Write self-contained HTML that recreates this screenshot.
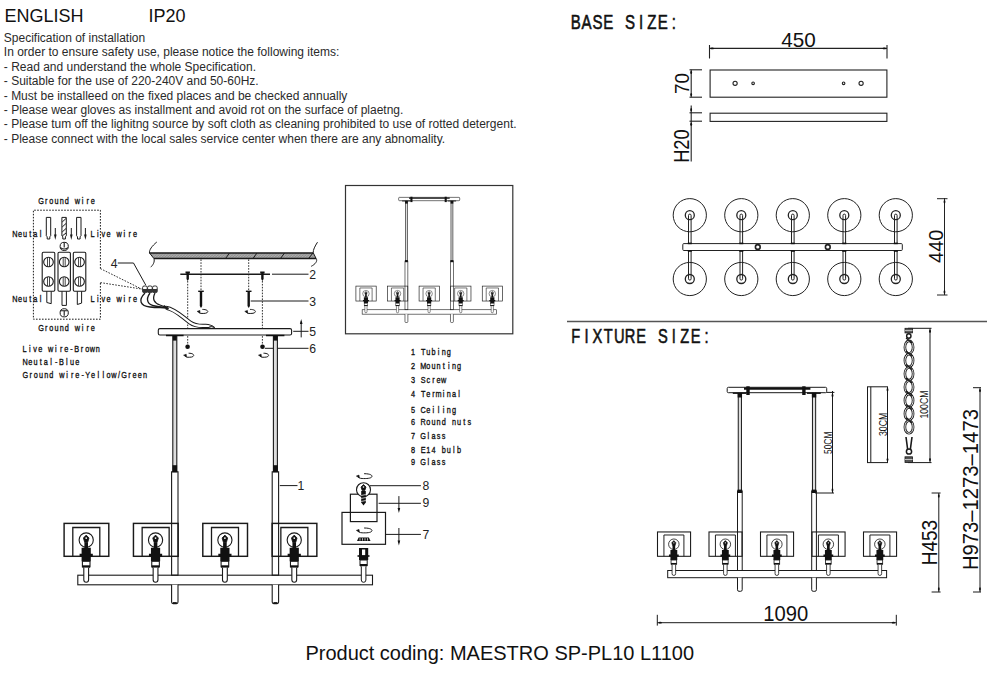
<!DOCTYPE html>
<html><head><meta charset="utf-8"><style>
html,body{margin:0;padding:0;background:#fff;width:1000px;height:690px;overflow:hidden}
svg{display:block}
</style></head><body>
<svg width="1000" height="690" viewBox="0 0 1000 690" fill="#111">
<defs><g id="shade">
<rect x="-22.1" y="-32.9" width="44.7" height="32.9" fill="none" stroke="#1a1a1a" stroke-width="1.45"/>
<path d="M-13.4 0 V-28.8 H13.6 V0" fill="none" stroke="#1a1a1a" stroke-width="1.3"/>
<circle cx="0" cy="-16.3" r="7.1" fill="none" stroke="#1a1a1a" stroke-width="1.1"/>
<path d="M-2.8 -18.3 L0 -21.2 L2.8 -18.3 L1.5 -14 h-3z" fill="#111" stroke="#111" stroke-width="0.8"/><circle cx="0" cy="-18.2" r="0.9" fill="#fff"/>
<rect x="-1.8" y="-14" width="3.6" height="6" fill="#111"/>
<path d="M-4.6 -8.5 h9.2 v6 h2 v3 h-2 v4.5 h-9.2 v-4.5 h-2 v-3 h2z" fill="#111"/>
<rect x="-3.8" y="5" width="7.6" height="5.5" fill="#fff" stroke="#1a1a1a" stroke-width="1.1"/>
<rect x="-3.8" y="9" width="7.6" height="2.4" fill="#111"/>
<path d="M-2.4 11.4 V23.5 a2.4 2.4 0 0 0 4.8 0 V11.4" fill="#fff" stroke="#1a1a1a" stroke-width="1.1"/>
</g></defs>
<text x="4.6" y="21.6" font-size="18" font-family='"Liberation Sans", sans-serif' font-weight="normal" text-anchor="start" >ENGLISH</text>
<text x="148.4" y="21.6" font-size="18" font-family='"Liberation Sans", sans-serif' font-weight="normal" text-anchor="start" >IP20</text>
<text x="3.8" y="42.0" font-size="12" font-family='"Liberation Sans", sans-serif' font-weight="normal" text-anchor="start" fill="#2a2a2a">Specification of installation</text>
<text x="3.8" y="56.4" font-size="12" font-family='"Liberation Sans", sans-serif' font-weight="normal" text-anchor="start" fill="#2a2a2a">In order to ensure safety use, please notice the following items:</text>
<text x="3.8" y="70.8" font-size="12" font-family='"Liberation Sans", sans-serif' font-weight="normal" text-anchor="start" fill="#2a2a2a">- Read and understand the whole Specification.</text>
<text x="3.8" y="85.2" font-size="12" font-family='"Liberation Sans", sans-serif' font-weight="normal" text-anchor="start" fill="#2a2a2a">- Suitable for the use of 220-240V and 50-60Hz.</text>
<text x="3.8" y="99.6" font-size="12" font-family='"Liberation Sans", sans-serif' font-weight="normal" text-anchor="start" fill="#2a2a2a">- Must be installeed on the fixed places and be checked annually</text>
<text x="3.8" y="114.0" font-size="12" font-family='"Liberation Sans", sans-serif' font-weight="normal" text-anchor="start" fill="#2a2a2a">- Please wear gloves as installment and avoid rot on the surface of plaetng.</text>
<text x="3.8" y="128.4" font-size="12" font-family='"Liberation Sans", sans-serif' font-weight="normal" text-anchor="start" fill="#2a2a2a">- Please tum off the lighitng source by soft cloth as cleaning prohibited to use of rotted detergent.</text>
<text x="3.8" y="142.8" font-size="12" font-family='"Liberation Sans", sans-serif' font-weight="normal" text-anchor="start" fill="#2a2a2a">- Please connect with the local sales service center when there are any abnomality.</text>
<text x="305.4" y="660" font-size="20" font-family='"Liberation Sans", sans-serif' font-weight="normal" text-anchor="start" >Product coding: MAESTRO SP-PL10 L1100</text>
<text transform="translate(570.2,28.8) scale(0.72,1)" x="7.57 22.71 37.85 52.99 68.13 83.26 98.40 113.54 128.68 143.82" y="0" font-size="20.93" font-family='"Liberation Sans", sans-serif' font-weight="normal" text-anchor="middle" stroke="#111" stroke-width="0.6">BASE SIZE:</text>
<text transform="translate(570.2,342.8) scale(0.72,1)" x="7.57 22.71 37.85 52.99 68.13 83.26 98.40 113.54 128.68 143.82 158.96 174.10 189.24" y="0" font-size="20.35" font-family='"Liberation Sans", sans-serif' font-weight="normal" text-anchor="middle" stroke="#111" stroke-width="0.6">FIXTURE SIZE:</text>
<line x1="567" y1="321.5" x2="987" y2="321.5" stroke="#555" stroke-width="1.3"/>
<g stroke="#222" stroke-width="1.1" fill="none">
<line x1="709.5" y1="48.4" x2="887" y2="48.4"/>
<line x1="709.5" y1="45" x2="709.5" y2="58.5"/><line x1="887" y1="45" x2="887" y2="58.5"/>
<rect x="710.1" y="70" width="176.8" height="27.2"/>
<circle cx="735.1" cy="83.3" r="2.1"/><circle cx="753.1" cy="83.3" r="1.3"/>
<circle cx="843.6" cy="83.3" r="1.3"/><circle cx="861.1" cy="83.3" r="2.1"/>
<line x1="691.2" y1="69.8" x2="691.2" y2="97.2"/>
<line x1="689.5" y1="69.8" x2="702" y2="69.8"/><line x1="689.5" y1="97.2" x2="702" y2="97.2"/>
<rect x="710.1" y="113.2" width="176.8" height="8.2"/>
<line x1="691.2" y1="105.5" x2="691.2" y2="161.5"/>
<line x1="689.5" y1="112.8" x2="702" y2="112.8"/><line x1="689.5" y1="121.2" x2="702" y2="121.2"/>
</g>
<text x="798.4" y="46.9" font-size="21" font-family='"Liberation Sans", sans-serif' font-weight="normal" text-anchor="middle" textLength="34.5" lengthAdjust="spacingAndGlyphs" >450</text>
<text transform="translate(682.2,83.4) rotate(-90)" x="0" y="0" font-size="20" font-family='"Liberation Sans", sans-serif' font-weight="normal" text-anchor="middle" dominant-baseline="central" textLength="21" lengthAdjust="spacingAndGlyphs">70</text>
<text transform="translate(681.9,146.1) rotate(-90)" x="0" y="0" font-size="21.5" font-family='"Liberation Sans", sans-serif' font-weight="normal" text-anchor="middle" dominant-baseline="central" textLength="33.5" lengthAdjust="spacingAndGlyphs">H20</text>
<g stroke="#222" stroke-width="1" fill="none">
<rect x="682.8" y="243.6" width="219.5" height="6.9" rx="1"/>
<circle cx="689.8" cy="215.2" r="16.6"/>
<circle cx="689.8" cy="215.2" r="4.5" stroke-width="1.3"/>
<circle cx="689.8" cy="279" r="16.6"/>
<circle cx="689.8" cy="279" r="4.5" stroke-width="1.3"/>
<path d="M688.5 243.6 V215.4 a1.3 1.3 0 0 1 2.6 0 V243.6"/>
<path d="M688.5 250.5 V278.8 a1.3 1.3 0 0 0 2.6 0 V250.5"/>
<rect x="687.8" y="242.6" width="4" height="1.6" fill="#111" stroke="none"/>
<rect x="687.8" y="250.2" width="4" height="1.6" fill="#111" stroke="none"/>
<circle cx="741.3" cy="215.2" r="16.6"/>
<circle cx="741.3" cy="215.2" r="4.5" stroke-width="1.3"/>
<circle cx="741.3" cy="279" r="16.6"/>
<circle cx="741.3" cy="279" r="4.5" stroke-width="1.3"/>
<path d="M740.0 243.6 V215.4 a1.3 1.3 0 0 1 2.6 0 V243.6"/>
<path d="M740.0 250.5 V278.8 a1.3 1.3 0 0 0 2.6 0 V250.5"/>
<rect x="739.3" y="242.6" width="4" height="1.6" fill="#111" stroke="none"/>
<rect x="739.3" y="250.2" width="4" height="1.6" fill="#111" stroke="none"/>
<circle cx="792.8" cy="215.2" r="16.6"/>
<circle cx="792.8" cy="215.2" r="4.5" stroke-width="1.3"/>
<circle cx="792.8" cy="279" r="16.6"/>
<circle cx="792.8" cy="279" r="4.5" stroke-width="1.3"/>
<path d="M791.5 243.6 V215.4 a1.3 1.3 0 0 1 2.6 0 V243.6"/>
<path d="M791.5 250.5 V278.8 a1.3 1.3 0 0 0 2.6 0 V250.5"/>
<rect x="790.8" y="242.6" width="4" height="1.6" fill="#111" stroke="none"/>
<rect x="790.8" y="250.2" width="4" height="1.6" fill="#111" stroke="none"/>
<circle cx="844.3" cy="215.2" r="16.6"/>
<circle cx="844.3" cy="215.2" r="4.5" stroke-width="1.3"/>
<circle cx="844.3" cy="279" r="16.6"/>
<circle cx="844.3" cy="279" r="4.5" stroke-width="1.3"/>
<path d="M843.0 243.6 V215.4 a1.3 1.3 0 0 1 2.6 0 V243.6"/>
<path d="M843.0 250.5 V278.8 a1.3 1.3 0 0 0 2.6 0 V250.5"/>
<rect x="842.3" y="242.6" width="4" height="1.6" fill="#111" stroke="none"/>
<rect x="842.3" y="250.2" width="4" height="1.6" fill="#111" stroke="none"/>
<circle cx="895.8" cy="215.2" r="16.6"/>
<circle cx="895.8" cy="215.2" r="4.5" stroke-width="1.3"/>
<circle cx="895.8" cy="279" r="16.6"/>
<circle cx="895.8" cy="279" r="4.5" stroke-width="1.3"/>
<path d="M894.5 243.6 V215.4 a1.3 1.3 0 0 1 2.6 0 V243.6"/>
<path d="M894.5 250.5 V278.8 a1.3 1.3 0 0 0 2.6 0 V250.5"/>
<rect x="893.8" y="242.6" width="4" height="1.6" fill="#111" stroke="none"/>
<rect x="893.8" y="250.2" width="4" height="1.6" fill="#111" stroke="none"/>
<circle cx="757.8" cy="247" r="2.4" stroke-width="1.6"/><circle cx="827.8" cy="247" r="2.4" stroke-width="1.6"/>
<line x1="944.5" y1="198" x2="944.5" y2="295"/>
<line x1="937" y1="198.7" x2="947.5" y2="198.7"/><line x1="937" y1="295" x2="947.5" y2="295"/>
</g>
<text transform="translate(935.7,246.2) rotate(-90)" x="0" y="0" font-size="20.5" font-family='"Liberation Sans", sans-serif' font-weight="normal" text-anchor="middle" dominant-baseline="central" textLength="33.5" lengthAdjust="spacingAndGlyphs">440</text>
<g id="fixture">
<g stroke="#1a1a1a" stroke-width="1" fill="none">
<rect x="667.7" y="570.5" width="218.9" height="7.2"/>
</g>
<use href="#shade" transform="translate(673.85,556.3) scale(0.74)"/>
<use href="#shade" transform="translate(725.35,556.3) scale(0.74)"/>
<use href="#shade" transform="translate(776.85,556.3) scale(0.74)"/>
<use href="#shade" transform="translate(828.35,556.3) scale(0.74)"/>
<use href="#shade" transform="translate(879.85,556.3) scale(0.74)"/>
<g stroke="#1a1a1a" stroke-width="1.0">
<rect x="738.25" y="393" width="3.2" height="98" fill="#ddd"/>
<rect x="737.5" y="491" width="4.7" height="79.5" fill="none"/>
<path d="M737.5 577.7 V589.8 q0 1.5 1.5 1.5 h1.7000000000000002 q1.5 0 1.5 -1.5 V577.7" fill="#fff"/>
</g>
<rect x="737.5500000000001" y="489.6" width="4.6" height="3.4" fill="#111"/>
<rect x="737.65" y="392.5" width="4.4" height="5" fill="#111"/>
<g stroke="#1a1a1a" stroke-width="1.0">
<rect x="812.4499999999999" y="393" width="3.2" height="98" fill="#ddd"/>
<rect x="811.6999999999999" y="491" width="4.7" height="79.5" fill="none"/>
<path d="M811.6999999999999 577.7 V589.8 q0 1.5 1.5 1.5 h1.7000000000000002 q1.5 0 1.5 -1.5 V577.7" fill="#fff"/>
</g>
<rect x="811.75" y="489.6" width="4.6" height="3.4" fill="#111"/>
<rect x="811.8499999999999" y="392.5" width="4.4" height="5" fill="#111"/>
<rect x="727.2" y="387.3" width="99.5" height="5.4" rx="1.2" fill="#fff" stroke="#1a1a1a" stroke-width="1"/>
<line x1="744" y1="388.6" x2="810.4" y2="388.6" stroke="#111" stroke-width="2.2"/>
<rect x="746.3" y="386.3" width="3.4" height="8.7" fill="#111"/><rect x="802.2" y="386.3" width="3.4" height="8.7" fill="#111"/>
<line x1="732.8" y1="393.2" x2="746.4" y2="393.2" stroke="#111" stroke-width="1.4"/><line x1="807" y1="393.2" x2="820.8" y2="393.2" stroke="#111" stroke-width="1.4"/>
</g>
<rect x="345.5" y="185.5" width="167.3" height="148.3" fill="none" stroke="#333" stroke-width="1.2"/>
<use href="#fixture" transform="matrix(0.6134,0,0,0.6134,-47.4,-40.2)"/>
<g stroke="#1a1a1a" stroke-width="1" fill="none">
<line x1="832.5" y1="391" x2="832.5" y2="493"/><line x1="826.4" y1="392.4" x2="834.4" y2="392.4"/><line x1="815" y1="493" x2="834" y2="493"/>
<rect x="867.5" y="386.8" width="20" height="75.8"/><line x1="870.8" y1="386.8" x2="870.8" y2="462.6"/>
<line x1="930" y1="328.3" x2="930" y2="462.6"/><line x1="908" y1="328.3" x2="931.5" y2="328.3"/><line x1="908" y1="462.6" x2="931.5" y2="462.6"/>
<line x1="938.8" y1="493" x2="938.8" y2="592"/><line x1="931.6" y1="493" x2="940.6" y2="493"/><line x1="931.6" y1="592" x2="940.6" y2="592"/>
<line x1="980" y1="387.7" x2="980" y2="592"/><line x1="973" y1="387.7" x2="981" y2="387.7"/><line x1="973" y1="592" x2="981" y2="592"/>
<line x1="657.3" y1="622.7" x2="896.3" y2="622.7"/><line x1="657.3" y1="614.8" x2="657.3" y2="625.6"/><line x1="896.3" y1="614.8" x2="896.3" y2="625.6"/>
</g>
<g fill="none">
<rect x="905" y="328.3" width="7.6" height="4.6" fill="#555" stroke="#1a1a1a" stroke-width="0.8"/><line x1="905" y1="330.6" x2="912.6" y2="330.6" stroke="#ddd" stroke-width="0.8"/>
<rect x="905" y="456.8" width="7.6" height="5.8" fill="#555" stroke="#1a1a1a" stroke-width="0.8"/><line x1="905" y1="459.5" x2="912.6" y2="459.5" stroke="#ddd" stroke-width="0.8"/>
<circle cx="908.8" cy="336" r="2.2" stroke="#1a1a1a" stroke-width="1.4"/>
<ellipse cx="909" cy="347.2" rx="4.1" ry="6.3" stroke="#1a1a1a" stroke-width="2.6"/>
<ellipse cx="909" cy="347.2" rx="4.1" ry="6.3" stroke="#fff" stroke-width="0.9"/>
<ellipse cx="909" cy="360.5" rx="4.1" ry="6.3" stroke="#1a1a1a" stroke-width="2.6"/>
<ellipse cx="909" cy="360.5" rx="4.1" ry="6.3" stroke="#fff" stroke-width="0.9"/>
<ellipse cx="909" cy="373.8" rx="4.1" ry="6.3" stroke="#1a1a1a" stroke-width="2.6"/>
<ellipse cx="909" cy="373.8" rx="4.1" ry="6.3" stroke="#fff" stroke-width="0.9"/>
<ellipse cx="909" cy="387.1" rx="4.1" ry="6.3" stroke="#1a1a1a" stroke-width="2.6"/>
<ellipse cx="909" cy="387.1" rx="4.1" ry="6.3" stroke="#fff" stroke-width="0.9"/>
<ellipse cx="909" cy="400.4" rx="4.1" ry="6.3" stroke="#1a1a1a" stroke-width="2.6"/>
<ellipse cx="909" cy="400.4" rx="4.1" ry="6.3" stroke="#fff" stroke-width="0.9"/>
<ellipse cx="909" cy="413.7" rx="4.1" ry="6.3" stroke="#1a1a1a" stroke-width="2.6"/>
<ellipse cx="909" cy="413.7" rx="4.1" ry="6.3" stroke="#fff" stroke-width="0.9"/>
<ellipse cx="909" cy="427.0" rx="4.1" ry="6.3" stroke="#1a1a1a" stroke-width="2.6"/>
<ellipse cx="909" cy="427.0" rx="4.1" ry="6.3" stroke="#fff" stroke-width="0.9"/>
<path d="M906 338.0 C908 339.5 910 341.5 912 343.0" stroke="#1a1a1a" stroke-width="1.3"/>
<path d="M906 351.3 C908 352.8 910 354.8 912 356.3" stroke="#1a1a1a" stroke-width="1.3"/>
<path d="M906 364.6 C908 366.1 910 368.1 912 369.6" stroke="#1a1a1a" stroke-width="1.3"/>
<path d="M906 377.9 C908 379.4 910 381.4 912 382.9" stroke="#1a1a1a" stroke-width="1.3"/>
<path d="M906 391.2 C908 392.7 910 394.7 912 396.2" stroke="#1a1a1a" stroke-width="1.3"/>
<path d="M906 404.5 C908 406.0 910 408.0 912 409.5" stroke="#1a1a1a" stroke-width="1.3"/>
<path d="M906 417.8 C908 419.3 910 421.3 912 422.8" stroke="#1a1a1a" stroke-width="1.3"/>
<path d="M906 437 L907.6 449 M912 437 L910.4 449" stroke="#1a1a1a" stroke-width="1.6"/>
<circle cx="909" cy="451.5" r="2.6" stroke="#1a1a1a" stroke-width="1.5"/>
</g>
<text transform="translate(827.6,442.8) rotate(-90)" x="0" y="0" font-size="10.5" font-family='"Liberation Sans", sans-serif' font-weight="normal" text-anchor="middle" dominant-baseline="central" textLength="22.5" lengthAdjust="spacingAndGlyphs">50CM</text>
<text transform="translate(883.3,424.4) rotate(-90)" x="0" y="0" font-size="10.5" font-family='"Liberation Sans", sans-serif' font-weight="normal" text-anchor="middle" dominant-baseline="central" textLength="23.2" lengthAdjust="spacingAndGlyphs">30CM</text>
<text transform="translate(923.6,404.6) rotate(-90)" x="0" y="0" font-size="10.5" font-family='"Liberation Sans", sans-serif' font-weight="normal" text-anchor="middle" dominant-baseline="central" textLength="28" lengthAdjust="spacingAndGlyphs">100CM</text>
<text transform="translate(929.6,542.6) rotate(-90)" x="0" y="0" font-size="22" font-family='"Liberation Sans", sans-serif' font-weight="normal" text-anchor="middle" dominant-baseline="central" textLength="45.5" lengthAdjust="spacingAndGlyphs">H453</text>
<text transform="translate(970.5,489.6) rotate(-90)" x="0" y="0" font-size="22" font-family='"Liberation Sans", sans-serif' font-weight="normal" text-anchor="middle" dominant-baseline="central" textLength="161" lengthAdjust="spacingAndGlyphs">H973&#8211;1273&#8211;1473</text>
<text x="785.8" y="621.3" font-size="22" font-family='"Liberation Sans", sans-serif' font-weight="normal" text-anchor="middle" textLength="45" lengthAdjust="spacingAndGlyphs" >1090</text>
<text transform="translate(38.4,204.1) scale(0.76,1)" x="3.41 10.23 17.05 23.86 30.68 37.50 44.32 51.14 57.96 64.78 71.59" y="0" font-size="9.59" font-family='"Liberation Sans", sans-serif' font-weight="normal" text-anchor="middle" stroke="#111" stroke-width="0.35">Ground wire</text>
<text transform="translate(38.4,330.9) scale(0.76,1)" x="3.41 10.23 17.05 23.86 30.68 37.50 44.32 51.14 57.96 64.78 71.59" y="0" font-size="9.59" font-family='"Liberation Sans", sans-serif' font-weight="normal" text-anchor="middle" stroke="#111" stroke-width="0.35">Ground wire</text>
<text transform="translate(12.4,236.7) scale(0.76,1)" x="3.36 10.07 16.78 23.49 30.20 36.91" y="0" font-size="9.59" font-family='"Liberation Sans", sans-serif' font-weight="normal" text-anchor="middle" stroke="#111" stroke-width="0.35">Neutal</text>
<text transform="translate(90.0,236.7) scale(0.76,1)" x="3.48 10.44 17.40 24.36 31.32 38.28 45.23 52.19 59.15" y="0" font-size="9.59" font-family='"Liberation Sans", sans-serif' font-weight="normal" text-anchor="middle" stroke="#111" stroke-width="0.35">Live wire</text>
<text transform="translate(12.4,302.2) scale(0.76,1)" x="3.36 10.07 16.78 23.49 30.20 36.91" y="0" font-size="9.59" font-family='"Liberation Sans", sans-serif' font-weight="normal" text-anchor="middle" stroke="#111" stroke-width="0.35">Neutal</text>
<text transform="translate(90.0,302.2) scale(0.76,1)" x="3.48 10.44 17.40 24.36 31.32 38.28 45.23 52.19 59.15" y="0" font-size="9.59" font-family='"Liberation Sans", sans-serif' font-weight="normal" text-anchor="middle" stroke="#111" stroke-width="0.35">Live wire</text>
<text transform="translate(22.0,351.5) scale(0.76,1)" x="3.43 10.30 17.17 24.04 30.91 37.78 44.64 51.51 58.38 65.25 72.12 78.99 85.86 92.72 99.59" y="0" font-size="9.59" font-family='"Liberation Sans", sans-serif' font-weight="normal" text-anchor="middle" stroke="#111" stroke-width="0.35">Live wire-Brown</text>
<text transform="translate(22.4,365) scale(0.76,1)" x="3.43 10.30 17.16 24.03 30.90 37.76 44.63 51.49 58.36 65.22 72.09" y="0" font-size="9.59" font-family='"Liberation Sans", sans-serif' font-weight="normal" text-anchor="middle" stroke="#111" stroke-width="0.35">Neutal-Blue</text>
<text transform="translate(22.8,377.7) scale(0.76,1)" x="3.42 10.26 17.11 23.95 30.79 37.63 44.47 51.32 58.16 65.00 71.84 78.68 85.53 92.37 99.21 106.05 112.89 119.74 126.58 133.42 140.26 147.11 153.95 160.79" y="0" font-size="9.59" font-family='"Liberation Sans", sans-serif' font-weight="normal" text-anchor="middle" stroke="#111" stroke-width="0.35">Ground wire-Yellow/Green</text>
<text transform="translate(410.4,355.2) scale(0.76,1)" x="3.37 10.11 16.84 23.58 30.32 37.05 43.79 50.53" y="0" font-size="9.59" font-family='"Liberation Sans", sans-serif' font-weight="normal" text-anchor="middle" stroke="#111" stroke-width="0.35">1 Tubing</text>
<text transform="translate(410.4,369.2) scale(0.76,1)" x="3.37 10.11 16.84 23.58 30.32 37.05 43.79 50.53 57.26 64.00" y="0" font-size="9.59" font-family='"Liberation Sans", sans-serif' font-weight="normal" text-anchor="middle" stroke="#111" stroke-width="0.35">2 Mounting</text>
<text transform="translate(410.4,383) scale(0.76,1)" x="3.37 10.11 16.84 23.58 30.32 37.05 43.79" y="0" font-size="9.59" font-family='"Liberation Sans", sans-serif' font-weight="normal" text-anchor="middle" stroke="#111" stroke-width="0.35">3 Screw</text>
<text transform="translate(410.4,397.3) scale(0.76,1)" x="3.37 10.11 16.84 23.58 30.32 37.05 43.79 50.53 57.26 64.00" y="0" font-size="9.59" font-family='"Liberation Sans", sans-serif' font-weight="normal" text-anchor="middle" stroke="#111" stroke-width="0.35">4 Terminal</text>
<text transform="translate(410.4,412.5) scale(0.76,1)" x="3.37 10.11 16.84 23.58 30.32 37.05 43.79 50.53 57.26" y="0" font-size="9.59" font-family='"Liberation Sans", sans-serif' font-weight="normal" text-anchor="middle" stroke="#111" stroke-width="0.35">5 Ceiling</text>
<text transform="translate(410.4,425.3) scale(0.76,1)" x="3.37 10.11 16.84 23.58 30.32 37.05 43.79 50.53 57.26 64.00 70.74 77.47" y="0" font-size="9.59" font-family='"Liberation Sans", sans-serif' font-weight="normal" text-anchor="middle" stroke="#111" stroke-width="0.35">6 Round nuts</text>
<text transform="translate(410.4,438.6) scale(0.76,1)" x="3.37 10.11 16.84 23.58 30.32 37.05 43.79" y="0" font-size="9.59" font-family='"Liberation Sans", sans-serif' font-weight="normal" text-anchor="middle" stroke="#111" stroke-width="0.35">7 Glass</text>
<text transform="translate(410.4,452.5) scale(0.76,1)" x="3.37 10.11 16.84 23.58 30.32 37.05 43.79 50.53 57.26 64.00" y="0" font-size="9.59" font-family='"Liberation Sans", sans-serif' font-weight="normal" text-anchor="middle" stroke="#111" stroke-width="0.35">8 E14 bulb</text>
<text transform="translate(410.4,465.4) scale(0.76,1)" x="3.37 10.11 16.84 23.58 30.32 37.05 43.79" y="0" font-size="9.59" font-family='"Liberation Sans", sans-serif' font-weight="normal" text-anchor="middle" stroke="#111" stroke-width="0.35">9 Glass</text>
<g stroke="#1a1a1a" fill="none">
<path d="M100.4 268.6 V210.2 H33.4 V319.2 H100.4 V282.6" stroke-width="1" stroke-dasharray="1.6 1.4"/>
<path d="M100.4 268.6 L141.5 289 M100.4 282.6 L141.5 289" stroke-width="0.9" stroke-dasharray="1.6 1.4"/>
<path d="M46.3 217.4 h4.4 v18.4 l-0.9 1 v2.2 h-2.6 v-2.2 l-0.9 -1z" stroke-width="1"/>
<path d="M61.9 217.4 h4.4 v18.4 l-0.9 1 v2.2 h-2.6 v-2.2 l-0.9 -1z" stroke-width="1"/>
<path d="M76.6 217.4 h4.4 v18.4 l-0.9 1 v2.2 h-2.6 v-2.2 l-0.9 -1z" stroke-width="1"/>
<path d="M62.2 222 l3.8 -3.5 M62.2 227 l3.8 -3.5 M62.2 232 l3.8 -3.5 M62.2 236 l3.8 -3" stroke-width="1"/>
<line x1="55.3" y1="228" x2="55.3" y2="236" stroke-width="1"/><path d="M54.0 234.6 L55.3 240 L56.599999999999994 234.6z" fill="#1a1a1a" stroke="none"/>
<line x1="71.3" y1="228" x2="71.3" y2="236" stroke-width="1"/><path d="M70.0 234.6 L71.3 240 L72.6 234.6z" fill="#1a1a1a" stroke="none"/>
<line x1="85.4" y1="228" x2="85.4" y2="236" stroke-width="1"/><path d="M84.10000000000001 234.6 L85.4 240 L86.7 234.6z" fill="#1a1a1a" stroke="none"/>
<circle cx="64.2" cy="246.4" r="4.1" stroke-width="1"/><path d="M64.2 242.6 v5 M60.5 247.6 q3.7 2.8 7.4 0" stroke-width="1.1"/>
<circle cx="64.2" cy="312.8" r="4.1" stroke-width="1"/><path d="M61 310.8 h6.4 M64.2 310.8 v5" stroke-width="1.1"/>
<rect x="42.2" y="252.2" width="12.599999999999994" height="39.1" rx="1.2" stroke-width="1.1"/>
<circle cx="48.5" cy="262" r="4.8" stroke-width="1.1"/><path d="M47.5 257.5 v9 M49.5 257.5 v9" stroke-width="0.8"/>
<circle cx="48.5" cy="281.5" r="4.8" stroke-width="1.1"/><path d="M47.5 277.0 v9 M49.5 277.0 v9" stroke-width="0.8"/>
<rect x="58" y="252.2" width="12.400000000000006" height="39.1" rx="1.2" stroke-width="1.1"/>
<circle cx="64.2" cy="262" r="4.8" stroke-width="1.1"/><path d="M63.2 257.5 v9 M65.2 257.5 v9" stroke-width="0.8"/>
<circle cx="64.2" cy="281.5" r="4.8" stroke-width="1.1"/><path d="M63.2 277.0 v9 M65.2 277.0 v9" stroke-width="0.8"/>
<rect x="73.3" y="252.2" width="12.5" height="39.1" rx="1.2" stroke-width="1.1"/>
<circle cx="79.55" cy="262" r="4.8" stroke-width="1.1"/><path d="M78.55 257.5 v9 M80.55 257.5 v9" stroke-width="0.8"/>
<circle cx="79.55" cy="281.5" r="4.8" stroke-width="1.1"/><path d="M78.55 277.0 v9 M80.55 277.0 v9" stroke-width="0.8"/>
<path d="M46.8 291.3 V302.5 l4.4 1.2 V291.3" stroke-width="1"/>
<path d="M62 291.3 V305.4 h4.4 V291.3" stroke-width="1"/>
<path d="M77.3 291.3 V304.5 l4.3 -1.4 V291.3" stroke-width="1"/>
</g>
<defs><pattern id="hatch" width="2" height="2" patternUnits="userSpaceOnUse" patternTransform="rotate(45)"><rect width="2" height="2" fill="#b4b4b4"/><line x1="0" y1="0" x2="0" y2="2" stroke="#666" stroke-width="0.8"/><line x1="0" y1="0" x2="2" y2="0" stroke="#777" stroke-width="0.6"/></pattern></defs>
<path d="M149.5 253 H313.2 L316.1 258.5 H153.9z" fill="url(#hatch)" stroke="none"/>
<g stroke="#1a1a1a" fill="none" stroke-width="1">
<path d="M149.5 253 H313.2 M153.9 258.5 H316.1" stroke-width="1.3"/>
<path d="M156.8 242 C152 246 149 250 149.5 253 L153.9 258.5 C155 262 153 265 150.7 267.2"/>
<path d="M317.5 242.2 C315 246 313 250 313.2 252.7 L316.1 258.5 C318 261 315 264.5 311.2 266.3"/>
<path d="M225.5 258.5 l4 -5.5 M253 258.5 l4 -5.5 M280.5 258.5 l4 -5.5 M308.6 258.5 l4.6 -5.8" />
<path d="M201 259.4 V291 M248.7 259.4 V291" stroke-dasharray="1.6 1.3" stroke-width="0.9"/>
<path d="M187.7 281 V345 M262.4 281 V345" stroke-dasharray="1.6 1.3" stroke-width="0.9"/>
<line x1="180.3" y1="274.2" x2="270" y2="274.2" stroke-width="1.6"/>
</g>
<path d="M185.5 271.5 h4.4 v2 h-1 v5.5 l-1.2 2 l-1.2 -2 v-5.5 h-1z" fill="#111"/>
<path d="M260.2 271.5 h4.4 v2 h-1 v5.5 l-1.2 2 l-1.2 -2 v-5.5 h-1z" fill="#111"/>
<rect x="198.2" y="290.6" width="5.6" height="1.4" fill="#111"/><path d="M199.8 292 h2.4 v14 l-1.2 2 l-1.2 -2z" fill="#111"/>
<path d="M202.4 309.4 C206.7 309.4 208.2 310.9 207.7 311.9 C207.2 313.4 204.4 313.6 200.4 313.4 C200.2 313.4 199.2 312.4 198.7 312.0" fill="none" stroke="#1a1a1a" stroke-width="1"/>
<path d="M197.2 311.4 l2.6 -1 l0.3 2.8z" fill="#111" stroke="#111" stroke-width="0.6"/>
<rect x="245.89999999999998" y="290.6" width="5.6" height="1.4" fill="#111"/><path d="M247.5 292 h2.4 v14 l-1.2 2 l-1.2 -2z" fill="#111"/>
<path d="M250.1 309.4 C254.3 309.4 255.8 310.9 255.3 311.9 C254.8 313.4 252.1 313.6 248.1 313.4 C247.8 313.4 246.8 312.4 246.3 312.0" fill="none" stroke="#1a1a1a" stroke-width="1"/>
<path d="M244.8 311.4 l2.6 -1 l0.3 2.8z" fill="#111" stroke="#111" stroke-width="0.6"/>
<g stroke="#1a1a1a" stroke-width="1" fill="none">
<path d="M117.8 263 H133.5 L145.8 285.2"/>
<line x1="272" y1="274.2" x2="308.5" y2="274.2"/>
<line x1="250.7" y1="301" x2="308.5" y2="301"/>
<line x1="293.2" y1="331.3" x2="308.5" y2="331.3"/><line x1="301.2" y1="321.5" x2="301.2" y2="337.4"/>
<line x1="264.9" y1="348.3" x2="308.5" y2="348.3"/>
</g>
<path d="M299.9 324 L301.2 319 L302.5 324z" fill="#111"/>
<text x="309.2" y="278.8" font-size="12" font-family='"Liberation Sans", sans-serif' font-weight="normal" text-anchor="start" textLength="6.8" lengthAdjust="spacingAndGlyphs" fill="#222">2</text>
<text x="309.2" y="305.8" font-size="12" font-family='"Liberation Sans", sans-serif' font-weight="normal" text-anchor="start" textLength="6.8" lengthAdjust="spacingAndGlyphs" fill="#222">3</text>
<text x="309.2" y="336" font-size="12" font-family='"Liberation Sans", sans-serif' font-weight="normal" text-anchor="start" textLength="6.8" lengthAdjust="spacingAndGlyphs" fill="#222">5</text>
<text x="309.2" y="352.8" font-size="12" font-family='"Liberation Sans", sans-serif' font-weight="normal" text-anchor="start" textLength="6.8" lengthAdjust="spacingAndGlyphs" fill="#222">6</text>
<text x="110.8" y="267.8" font-size="12" font-family='"Liberation Sans", sans-serif' font-weight="normal" text-anchor="start" textLength="6.8" lengthAdjust="spacingAndGlyphs" fill="#222">4</text>
<g fill="none" stroke="#1a1a1a">
<path d="M145 293 C138 300 140 306 150 307 C158 308 163 307 167 308" stroke-width="1.3"/>
<path d="M150 293 C145 300 148 305 155 306 C160 307 164 307 167 308" stroke-width="1.3"/>
<path d="M155 293 C152 299 154 303 160 305 C163 306 165 307 167 308" stroke-width="1.3"/>
<path d="M166 307.8 C176 309.5 182 317 190 322.5 C197 327.5 203 325.5 208 326 C211 326.5 212.5 327.5 213.5 328.6" stroke-width="4.2" stroke-linecap="butt"/>
<path d="M166 307.8 C176 309.5 182 317 190 322.5 C197 327.5 203 325.5 208 326 C211 326.5 212.5 327.5 213.5 328.6" stroke="#fff" stroke-width="2.2" stroke-linecap="butt"/>
<path d="M163.5 306 l5 3" stroke-width="2.2"/>
</g>
<g stroke="#1a1a1a" stroke-width="0.9" fill="#fff">
<rect x="142.6" y="286" width="4.6" height="6.5" rx="1.5"/><rect x="147.6" y="286" width="4.6" height="6.5" rx="1.5"/><rect x="152.6" y="286" width="4.6" height="6.5" rx="1.5"/>
</g>
<path d="M142.6 289 h14.6 v3.5 h-14.6z" fill="#333"/>
<rect x="77.8" y="575.2" width="294.7" height="9.6" fill="none" stroke="#1a1a1a" stroke-width="1.1"/>
<use href="#shade" transform="translate(86.2,556.3)"/>
<use href="#shade" transform="translate(155.55,556.3)"/>
<use href="#shade" transform="translate(224.9,556.3)"/>
<use href="#shade" transform="translate(294.25,556.3)"/>
<g stroke="#1a1a1a" stroke-width="1.1">
<rect x="172.8" y="335.3" width="4.0" height="136.5" fill="#ddd"/>
<rect x="171.60000000000002" y="471.8" width="6.4" height="103.40000000000003" fill="none"/>
<path d="M171.60000000000002 584.8 V602.1 q0 1.5 1.5 1.5 h3.4000000000000004 q1.5 0 1.5 -1.5 V584.8" fill="#fff"/>
</g>
<rect x="172.5" y="465.2" width="4.6" height="6.8" fill="#111"/>
<rect x="172.9" y="335.3" width="3.8" height="5.3" fill="#111"/>
<path d="M172.8 603.6 h4 v-1.5 h-4z" fill="#111"/>
<g stroke="#1a1a1a" stroke-width="1.1">
<rect x="273.4" y="335.3" width="4.0" height="136.5" fill="#ddd"/>
<rect x="272.2" y="471.8" width="6.4" height="103.40000000000003" fill="none"/>
<path d="M272.2 584.8 V602.1 q0 1.5 1.5 1.5 h3.4000000000000004 q1.5 0 1.5 -1.5 V584.8" fill="#fff"/>
</g>
<rect x="273.09999999999997" y="465.2" width="4.6" height="6.8" fill="#111"/>
<rect x="273.5" y="335.3" width="3.8" height="5.3" fill="#111"/>
<path d="M273.4 603.6 h4 v-1.5 h-4z" fill="#111"/>
<rect x="158.3" y="328.6" width="133.3" height="6.4" rx="1.6" fill="#fff" stroke="#1a1a1a" stroke-width="1.1"/>
<path d="M166 335.4 H183.6 M266 335.4 H284.4" stroke="#111" stroke-width="1.5"/>
<path d="M207 328.6 C210 326 212 326 215.6 328.6" fill="none" stroke="#1a1a1a" stroke-width="1"/>
<circle cx="187.6" cy="346.7" r="2.3" fill="#111"/>
<path d="M188.6 353.2 C192.6 353.2 194.1 354.7 193.6 355.7 C193.1 357.2 190.6 357.4 186.6 357.2 C186.6 357.2 185.6 356.2 185.1 355.8" fill="none" stroke="#1a1a1a" stroke-width="1"/>
<path d="M183.6 355.2 l2.6 -1 l0.3 2.8z" fill="#111" stroke="#111" stroke-width="0.6"/>
<circle cx="262.5" cy="346.7" r="2.3" fill="#111"/>
<path d="M263.5 353.2 C267.5 353.2 269.0 354.7 268.5 355.7 C268.0 357.2 265.5 357.4 261.5 357.2 C261.5 357.2 260.5 356.2 260.0 355.8" fill="none" stroke="#1a1a1a" stroke-width="1"/>
<path d="M258.5 355.2 l2.6 -1 l0.3 2.8z" fill="#111" stroke="#111" stroke-width="0.6"/>
<line x1="279.8" y1="485.6" x2="297.5" y2="485.6" stroke="#1a1a1a" stroke-width="1"/>
<text x="297.6" y="490.2" font-size="12" font-family='"Liberation Sans", sans-serif' font-weight="normal" text-anchor="start" textLength="6.8" lengthAdjust="spacingAndGlyphs" fill="#222">1</text>
<g stroke="#1a1a1a" fill="none" stroke-width="1.2">
<rect x="342" y="512.4" width="43.5" height="31.9"/>
<rect x="350.4" y="494.2" width="26.6" height="27.4"/>
<circle cx="363.5" cy="489.7" r="7" fill="#fff" stroke-width="1.1"/>
</g>
<path d="M361 487 l2.5 -2.4 l2.5 2.4 l-1.2 3.6 h-2.6z" fill="#111" stroke="#111" stroke-width="0.8"/><circle cx="363.5" cy="487" r="0.8" fill="#fff"/>
<path d="M361.2 491 h4.6 v11.5 l-2.3 3 l-2.3 -3z" fill="#111"/>
<path d="M361.2 495.5 l4.6 -1 M361.2 498.5 l4.6 -1 M361.2 501.5 l4.6 -1" stroke="#fff" stroke-width="0.7"/>
<path d="M357 541 h13.5 l-1.6 -3.4 h-10.3z" fill="#111"/><path d="M360 538.2 v2.4 M362.5 538.2 v2.4 M365 538.2 v2.4 M367.5 538.2 v2.4" stroke="#fff" stroke-width="0.7"/>
<path d="M364.1 473.7 C370.9 473.7 372.4 475.6 371.9 476.6 C371.4 478.5 366.1 478.7 362.1 478.5 C359.4 478.5 358.4 477.1 357.9 476.7" fill="none" stroke="#1a1a1a" stroke-width="1"/>
<path d="M356.4 476.1 l2.6 -1 l0.3 2.8z" fill="#111" stroke="#111" stroke-width="0.6"/>
<path d="M364.1 528.0 C370.9 528.0 372.4 529.9 371.9 530.9 C371.4 532.8 366.1 533.0 362.1 532.8 C359.4 532.8 358.4 531.4 357.9 531.0" fill="none" stroke="#1a1a1a" stroke-width="1"/>
<path d="M356.4 530.4 l2.6 -1 l0.3 2.8z" fill="#111" stroke="#111" stroke-width="0.6"/>
<path d="M359 548 h9.2 v12 h-9.2z" fill="#111"/><path d="M362 549.5 h3.2 v6 h-3.2z" fill="#fff"/>
<path d="M357.5 556 h12" stroke="#111" stroke-width="1.6"/>
<rect x="360" y="560" width="7.2" height="5.5" fill="#fff" stroke="#1a1a1a" stroke-width="1"/><rect x="360" y="564" width="7.2" height="2.4" fill="#111"/>
<path d="M361.3 566.4 V580 a2.3 2.3 0 0 0 4.6 0 V566.4" fill="#fff" stroke="#1a1a1a" stroke-width="1"/>
<g stroke="#1a1a1a" stroke-width="1" fill="none">
<line x1="369.9" y1="485.7" x2="420.9" y2="485.7"/>
<line x1="378.6" y1="503.3" x2="420.9" y2="503.3"/>
<line x1="385.8" y1="534.4" x2="420.9" y2="534.4"/>
<line x1="398.9" y1="496.1" x2="398.9" y2="510"/><line x1="398.9" y1="528" x2="398.9" y2="542.5"/>
</g>
<path d="M397.6 508 L398.9 513 L400.2 508z M397.6 540.5 L398.9 545.5 L400.2 540.5z" fill="#111"/>
<text x="422.6" y="490.2" font-size="12" font-family='"Liberation Sans", sans-serif' font-weight="normal" text-anchor="start" textLength="6.8" lengthAdjust="spacingAndGlyphs" fill="#222">8</text>
<text x="422.6" y="507.3" font-size="12" font-family='"Liberation Sans", sans-serif' font-weight="normal" text-anchor="start" textLength="6.8" lengthAdjust="spacingAndGlyphs" fill="#222">9</text>
<text x="422.6" y="539.2" font-size="12" font-family='"Liberation Sans", sans-serif' font-weight="normal" text-anchor="start" textLength="6.8" lengthAdjust="spacingAndGlyphs" fill="#222">7</text>
<ellipse cx="712.2" cy="48.4" rx="1.7" ry="0.9" fill="#111"/>
<ellipse cx="884.3" cy="48.4" rx="1.7" ry="0.9" fill="#111"/>
<ellipse cx="691.2" cy="72.4" rx="0.9" ry="1.7" fill="#111"/>
<ellipse cx="691.2" cy="94.6" rx="0.9" ry="1.7" fill="#111"/>
<ellipse cx="691.2" cy="109.8" rx="0.9" ry="1.7" fill="#111"/>
<ellipse cx="691.2" cy="124.2" rx="0.9" ry="1.7" fill="#111"/>
<ellipse cx="944.5" cy="201.8" rx="0.9" ry="1.7" fill="#111"/>
<ellipse cx="944.5" cy="292" rx="0.9" ry="1.7" fill="#111"/>
<ellipse cx="938.8" cy="496" rx="0.9" ry="1.7" fill="#111"/>
<ellipse cx="938.8" cy="589" rx="0.9" ry="1.7" fill="#111"/>
<ellipse cx="980" cy="390.6" rx="0.9" ry="1.7" fill="#111"/>
<ellipse cx="980" cy="589" rx="0.9" ry="1.7" fill="#111"/>
<ellipse cx="660.2" cy="622.7" rx="1.7" ry="0.9" fill="#111"/>
<ellipse cx="893.4" cy="622.7" rx="1.7" ry="0.9" fill="#111"/>
<ellipse cx="832.5" cy="395.5" rx="0.9" ry="1.7" fill="#111"/>
<ellipse cx="832.5" cy="490" rx="0.9" ry="1.7" fill="#111"/>
<ellipse cx="887.5" cy="389.8" rx="0.9" ry="1.7" fill="#111"/>
<ellipse cx="887.5" cy="459.6" rx="0.9" ry="1.7" fill="#111"/>
<ellipse cx="930" cy="331.3" rx="0.9" ry="1.7" fill="#111"/>
<ellipse cx="930" cy="459.6" rx="0.9" ry="1.7" fill="#111"/>
</svg></body></html>
